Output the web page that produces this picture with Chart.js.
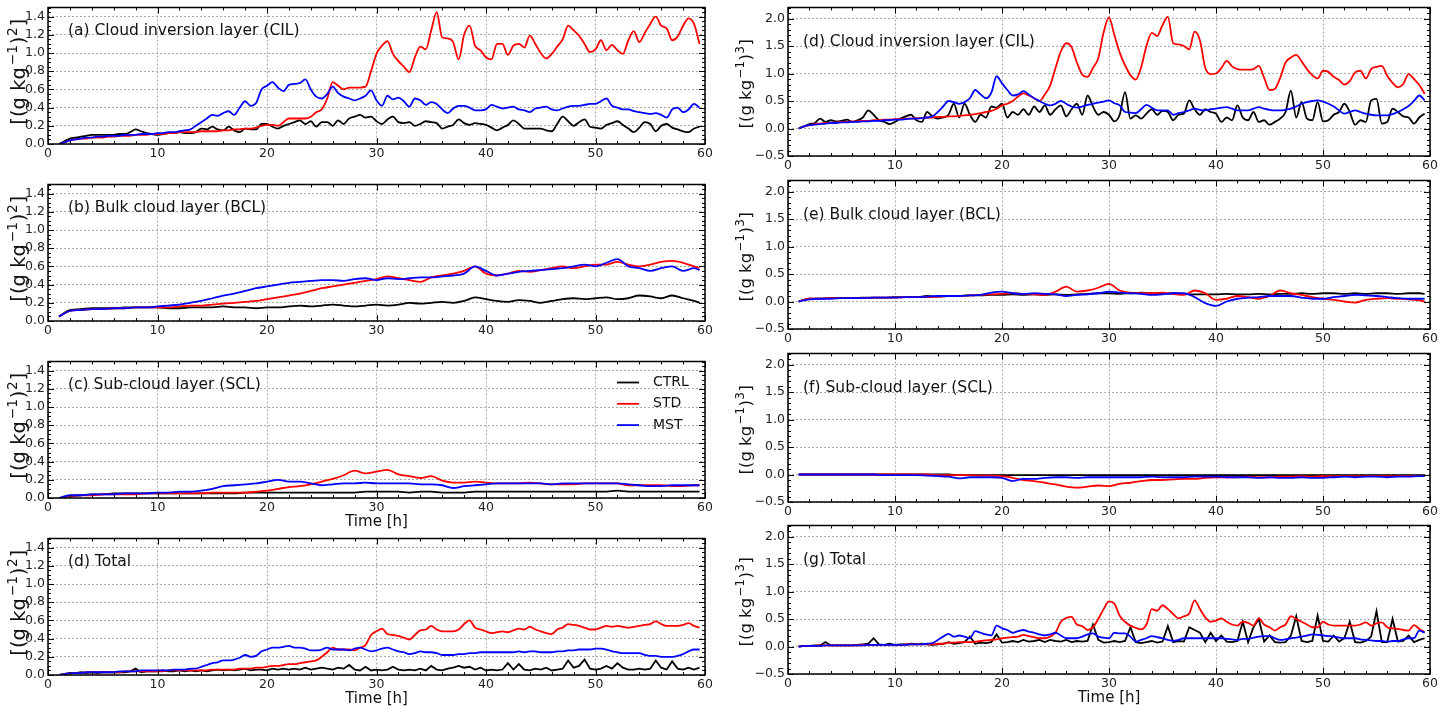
<!DOCTYPE html>
<html>
<head>
<meta charset="utf-8">
<script src="https://cdn.jsdelivr.net/npm/chart.js@4/dist/chart.umd.min.js"></script>
<style>
  html, body { margin: 0; padding: 0; background: #fff; }
  #fig { position: relative; width: 1452px; height: 713px; overflow: hidden; background: #fff; }
  #fig canvas { position: absolute; }
</style>
</head>
<body>
<div id="fig"></div>
<script>
// Sample times [h]
const hoursFine = [1,1.5,2,2.5,3,3.5,4,4.5,5,5.5,
  6,6.5,7,7.5,8,8.5,9,9.5,10,10.5,
  11,11.5,12,12.5,13,13.5,14,14.5,15,15.5,
  16,16.5,17,17.5,18,18.5,19,19.5,20,20.5,
  21,21.5,22,22.5,23,23.5,24,24.5,25,25.5,
  26,26.5,27,27.5,28,28.5,29,29.5,30,30.5,
  31,31.5,32,32.5,33,33.5,34,34.5,35,35.5,
  36,36.5,37,37.5,38,38.5,39,39.5,40,40.5,
  41,41.5,42,42.5,43,43.5,44,44.5,45,45.5,
  46,46.5,47,47.5,48,48.5,49,49.5,50,50.5,
  51,51.5,52,52.5,53,53.5,54,54.5,55,55.5,
  56,56.5,57,57.5,58,58.5,59,59.5];
const hoursCoarse = [1,2,3,4,5,6,7,8,9,10,
  11,12,13,14,15,16,17,18,19,20,
  21,22,23,24,25,26,27,28,29,30,
  31,32,33,34,35,36,37,38,39,40,
  41,42,43,44,45,46,47,48,49,50,
  51,52,53,54,55,56,57,58,59,59.5];

const seriesNames = ['CTRL', 'STD', 'MST'];
const seriesColors = ['#000000', '#ff0000', '#0000ff'];

// Variance [(g kg-1)^2] — cloud inversion layer
const varCilCtrl = [0.00,0.03,0.06,0.07,0.08,0.09,0.10,0.10,0.10,0.10,
  0.10,0.11,0.11,0.13,0.16,0.14,0.12,0.11,0.10,0.11,
  0.12,0.12,0.13,0.12,0.12,0.13,0.17,0.16,0.19,0.16,
  0.15,0.19,0.15,0.13,0.17,0.16,0.16,0.22,0.22,0.19,
  0.17,0.20,0.22,0.24,0.26,0.22,0.25,0.19,0.24,0.24,
  0.20,0.26,0.22,0.28,0.30,0.32,0.29,0.30,0.25,0.22,
  0.27,0.30,0.24,0.23,0.24,0.20,0.22,0.25,0.24,0.23,
  0.17,0.19,0.21,0.27,0.23,0.21,0.23,0.22,0.21,0.18,
  0.15,0.18,0.21,0.26,0.22,0.17,0.17,0.17,0.17,0.15,
  0.14,0.22,0.30,0.25,0.20,0.24,0.27,0.19,0.18,0.17,
  0.21,0.23,0.25,0.21,0.17,0.13,0.18,0.24,0.22,0.14,
  0.20,0.22,0.18,0.16,0.14,0.13,0.17,0.19];
const varCilStd = [0.00,0.02,0.04,0.05,0.06,0.06,0.07,0.07,0.07,0.08,
  0.08,0.09,0.09,0.09,0.10,0.10,0.10,0.11,0.11,0.11,
  0.12,0.12,0.13,0.13,0.13,0.13,0.14,0.14,0.14,0.14,
  0.15,0.15,0.16,0.16,0.17,0.17,0.18,0.20,0.21,0.21,
  0.20,0.24,0.28,0.28,0.28,0.28,0.30,0.35,0.38,0.50,
  0.68,0.64,0.60,0.62,0.62,0.62,0.63,0.80,0.99,1.08,
  1.13,0.99,0.91,0.85,0.79,0.95,1.07,1.04,1.25,1.45,
  1.17,1.16,1.12,0.93,1.20,1.30,1.08,1.03,0.95,0.93,
  1.10,1.10,0.98,1.08,1.10,1.06,1.19,1.10,1.00,0.94,
  0.99,1.07,1.15,1.30,1.25,1.19,1.10,1.01,1.04,1.14,
  1.03,1.09,1.03,0.99,1.14,1.24,1.12,1.22,1.32,1.40,
  1.30,1.27,1.14,1.18,1.30,1.38,1.32,1.10];
const varCilMst = [0.00,0.02,0.04,0.05,0.06,0.07,0.07,0.08,0.08,0.09,
  0.09,0.09,0.10,0.10,0.10,0.11,0.11,0.11,0.12,0.12,
  0.13,0.13,0.14,0.15,0.16,0.20,0.24,0.28,0.32,0.31,
  0.34,0.36,0.32,0.40,0.47,0.42,0.45,0.60,0.64,0.68,
  0.62,0.58,0.65,0.66,0.67,0.71,0.60,0.52,0.50,0.55,
  0.63,0.56,0.52,0.50,0.48,0.50,0.53,0.59,0.48,0.42,
  0.53,0.49,0.51,0.47,0.41,0.50,0.48,0.43,0.46,0.44,
  0.38,0.34,0.39,0.42,0.42,0.40,0.37,0.37,0.38,0.43,
  0.41,0.39,0.40,0.41,0.38,0.37,0.35,0.39,0.40,0.41,
  0.38,0.37,0.39,0.41,0.42,0.42,0.43,0.44,0.44,0.47,
  0.50,0.42,0.40,0.38,0.38,0.36,0.35,0.34,0.33,0.34,
  0.32,0.29,0.38,0.40,0.35,0.38,0.44,0.40];

// Variance — bulk cloud layer
const varBclCtrl = [0.05,0.12,0.13,0.14,0.14,0.14,0.15,0.15,0.15,0.15,
  0.14,0.14,0.15,0.15,0.15,0.16,0.15,0.15,0.14,0.15,
  0.15,0.16,0.17,0.16,0.17,0.18,0.17,0.16,0.17,0.18,
  0.17,0.18,0.20,0.19,0.20,0.21,0.20,0.22,0.26,0.24,
  0.22,0.21,0.23,0.22,0.20,0.22,0.24,0.25,0.24,0.25,
  0.26,0.24,0.25,0.28,0.27,0.25,0.28,0.25,0.22,0.20];
const varBclStd = [0.05,0.11,0.12,0.13,0.13,0.14,0.14,0.15,0.15,0.15,
  0.15,0.16,0.17,0.17,0.18,0.19,0.20,0.21,0.22,0.24,
  0.26,0.28,0.30,0.33,0.36,0.38,0.40,0.42,0.44,0.46,
  0.49,0.47,0.45,0.43,0.48,0.50,0.52,0.55,0.60,0.52,
  0.50,0.52,0.55,0.54,0.56,0.58,0.60,0.58,0.60,0.62,
  0.62,0.65,0.62,0.60,0.62,0.65,0.66,0.64,0.60,0.58];
const varBclMst = [0.05,0.11,0.12,0.13,0.13,0.14,0.14,0.15,0.15,0.16,
  0.17,0.18,0.20,0.22,0.25,0.28,0.30,0.33,0.36,0.38,
  0.40,0.42,0.43,0.44,0.45,0.45,0.44,0.46,0.47,0.45,
  0.47,0.46,0.47,0.48,0.48,0.49,0.50,0.52,0.60,0.55,
  0.50,0.52,0.54,0.55,0.56,0.57,0.58,0.60,0.62,0.60,
  0.64,0.68,0.60,0.58,0.55,0.58,0.60,0.55,0.58,0.56];

// Variance — sub-cloud layer
const varSclCtrl = [0.00,0.02,0.03,0.04,0.04,0.05,0.05,0.05,0.05,0.05,
  0.05,0.05,0.05,0.05,0.05,0.05,0.05,0.06,0.06,0.06,
  0.06,0.06,0.06,0.06,0.06,0.06,0.06,0.06,0.07,0.07,
  0.07,0.07,0.06,0.07,0.07,0.06,0.06,0.06,0.07,0.07,
  0.07,0.07,0.07,0.07,0.07,0.07,0.07,0.07,0.07,0.07,
  0.07,0.08,0.07,0.07,0.07,0.07,0.07,0.07,0.07,0.07];
const varSclStd = [0.00,0.02,0.03,0.03,0.04,0.04,0.04,0.04,0.05,0.05,
  0.05,0.05,0.05,0.05,0.06,0.06,0.06,0.06,0.07,0.08,
  0.10,0.12,0.13,0.15,0.18,0.21,0.25,0.30,0.27,0.29,
  0.31,0.26,0.24,0.22,0.24,0.19,0.17,0.17,0.18,0.17,
  0.16,0.16,0.16,0.17,0.16,0.15,0.15,0.15,0.16,0.16,
  0.16,0.16,0.14,0.14,0.14,0.14,0.13,0.13,0.14,0.14];
const varSclMst = [0.00,0.03,0.03,0.04,0.04,0.04,0.05,0.05,0.05,0.06,
  0.06,0.07,0.07,0.08,0.10,0.13,0.14,0.15,0.16,0.18,
  0.20,0.18,0.18,0.16,0.14,0.15,0.16,0.16,0.17,0.16,
  0.16,0.16,0.16,0.15,0.15,0.14,0.11,0.13,0.14,0.15,
  0.16,0.16,0.16,0.16,0.16,0.15,0.16,0.16,0.16,0.16,
  0.16,0.16,0.15,0.14,0.13,0.13,0.14,0.14,0.14,0.14];

// Variance — total
const varTotCtrl = [0.00,0.01,0.02,0.02,0.03,0.02,0.03,0.02,0.03,0.03,
  0.03,0.03,0.03,0.04,0.07,0.03,0.04,0.04,0.04,0.05,
  0.04,0.04,0.05,0.04,0.05,0.04,0.05,0.04,0.05,0.06,
  0.05,0.06,0.05,0.06,0.07,0.05,0.06,0.06,0.05,0.07,
  0.06,0.07,0.06,0.07,0.06,0.08,0.06,0.07,0.08,0.07,
  0.06,0.08,0.07,0.11,0.06,0.05,0.09,0.05,0.06,0.05,
  0.06,0.09,0.06,0.05,0.06,0.05,0.07,0.05,0.10,0.06,
  0.05,0.07,0.08,0.10,0.08,0.09,0.06,0.08,0.05,0.06,
  0.05,0.06,0.13,0.06,0.12,0.06,0.05,0.07,0.06,0.08,
  0.05,0.06,0.07,0.16,0.08,0.10,0.17,0.07,0.06,0.07,
  0.10,0.07,0.13,0.08,0.06,0.06,0.07,0.06,0.07,0.16,
  0.08,0.06,0.15,0.07,0.06,0.08,0.06,0.08];
const varTotStd = [0.00,0.01,0.02,0.02,0.02,0.03,0.03,0.03,0.03,0.03,
  0.03,0.03,0.04,0.04,0.04,0.04,0.04,0.04,0.04,0.04,
  0.05,0.05,0.05,0.05,0.05,0.05,0.05,0.05,0.06,0.06,
  0.06,0.06,0.06,0.07,0.07,0.07,0.08,0.08,0.09,0.10,
  0.10,0.11,0.12,0.12,0.13,0.14,0.15,0.16,0.20,0.25,
  0.30,0.28,0.28,0.28,0.27,0.30,0.33,0.44,0.48,0.51,
  0.45,0.44,0.43,0.41,0.39,0.44,0.49,0.50,0.54,0.50,
  0.48,0.48,0.48,0.50,0.56,0.60,0.52,0.50,0.48,0.46,
  0.47,0.48,0.47,0.49,0.51,0.50,0.53,0.50,0.48,0.46,
  0.45,0.50,0.52,0.56,0.55,0.54,0.52,0.50,0.50,0.52,
  0.54,0.53,0.54,0.53,0.52,0.53,0.54,0.55,0.56,0.59,
  0.56,0.54,0.54,0.54,0.55,0.57,0.54,0.52];
const varTotMst = [0.00,0.01,0.02,0.02,0.02,0.03,0.03,0.03,0.03,0.03,
  0.03,0.04,0.04,0.04,0.04,0.05,0.05,0.05,0.05,0.05,
  0.05,0.06,0.06,0.06,0.07,0.07,0.09,0.11,0.13,0.14,
  0.16,0.16,0.17,0.19,0.22,0.20,0.21,0.26,0.28,0.30,
  0.30,0.31,0.32,0.30,0.30,0.29,0.27,0.27,0.28,0.30,
  0.28,0.28,0.28,0.27,0.29,0.30,0.28,0.26,0.27,0.29,
  0.30,0.28,0.26,0.25,0.23,0.24,0.26,0.25,0.25,0.24,
  0.22,0.22,0.22,0.23,0.23,0.24,0.24,0.25,0.25,0.25,
  0.25,0.25,0.25,0.25,0.26,0.25,0.26,0.26,0.25,0.25,
  0.25,0.26,0.26,0.27,0.27,0.28,0.28,0.28,0.29,0.29,
  0.28,0.26,0.25,0.24,0.24,0.24,0.24,0.22,0.21,0.21,
  0.20,0.20,0.20,0.21,0.23,0.26,0.28,0.28];

// Third moment [(g kg-1)^3] — cloud inversion layer
const skwCilCtrl = [0.00,0.04,0.08,0.10,0.18,0.12,0.15,0.13,0.14,0.16,
  0.12,0.15,0.20,0.33,0.25,0.15,0.12,0.08,0.12,0.18,
  0.22,0.25,0.15,0.12,0.30,0.22,0.18,0.20,0.25,0.45,
  0.20,0.45,0.25,0.12,0.25,0.20,0.40,0.38,0.45,0.20,
  0.30,0.25,0.35,0.25,0.40,0.30,0.42,0.25,0.35,0.42,
  0.22,0.35,0.45,0.25,0.60,0.40,0.25,0.30,0.25,0.13,
  0.25,0.66,0.18,0.24,0.18,0.27,0.35,0.25,0.32,0.30,
  0.15,0.25,0.27,0.51,0.35,0.25,0.35,0.30,0.27,0.12,
  0.20,0.15,0.42,0.20,0.15,0.30,0.12,0.15,0.07,0.12,
  0.18,0.30,0.69,0.20,0.48,0.18,0.15,0.48,0.13,0.15,
  0.25,0.30,0.45,0.30,0.07,0.15,0.12,0.51,0.54,0.09,
  0.12,0.36,0.30,0.22,0.20,0.09,0.20,0.27];
const skwCilStd = [0.00,0.04,0.06,0.08,0.09,0.10,0.10,0.11,0.12,0.12,
  0.13,0.13,0.14,0.14,0.15,0.15,0.16,0.16,0.17,0.17,
  0.18,0.18,0.19,0.19,0.20,0.20,0.21,0.21,0.22,0.22,
  0.23,0.24,0.25,0.26,0.28,0.30,0.32,0.36,0.42,0.45,
  0.50,0.58,0.64,0.60,0.55,0.50,0.62,0.78,1.10,1.40,
  1.55,1.48,1.20,0.98,0.94,1.10,1.28,1.75,2.02,1.70,
  1.38,1.15,0.97,0.89,1.11,1.50,1.74,1.68,1.88,2.03,
  1.55,1.53,1.50,1.44,1.76,1.60,1.10,0.99,1.00,1.10,
  1.23,1.13,1.08,1.07,1.07,1.08,1.14,0.92,0.70,0.72,
  0.92,1.20,1.29,1.34,1.22,1.08,0.97,0.91,1.05,1.03,
  0.94,0.88,0.80,0.86,1.02,1.05,0.91,1.08,1.12,1.14,
  0.96,0.83,0.75,0.81,0.99,0.90,0.79,0.63];
const skwCilMst = [0.00,0.04,0.06,0.07,0.08,0.09,0.10,0.10,0.11,0.11,
  0.12,0.12,0.13,0.13,0.14,0.14,0.15,0.15,0.16,0.16,
  0.17,0.18,0.18,0.19,0.20,0.22,0.30,0.40,0.50,0.48,
  0.45,0.48,0.55,0.70,0.62,0.55,0.65,0.95,0.82,0.70,
  0.60,0.62,0.68,0.62,0.55,0.50,0.45,0.42,0.45,0.50,
  0.45,0.40,0.38,0.40,0.43,0.45,0.47,0.49,0.51,0.46,
  0.42,0.30,0.29,0.28,0.35,0.43,0.38,0.33,0.33,0.33,
  0.25,0.28,0.30,0.33,0.36,0.34,0.33,0.35,0.36,0.38,
  0.39,0.36,0.33,0.33,0.33,0.36,0.39,0.36,0.34,0.33,
  0.33,0.34,0.36,0.40,0.45,0.48,0.50,0.51,0.49,0.45,
  0.40,0.33,0.27,0.30,0.33,0.30,0.27,0.25,0.24,0.24,
  0.24,0.26,0.30,0.35,0.41,0.50,0.60,0.51];

// Third moment — bulk cloud layer
const skwBclCtrl = [0.00,0.05,0.05,0.06,0.06,0.06,0.07,0.07,0.07,0.08,
  0.08,0.08,0.10,0.09,0.10,0.10,0.11,0.11,0.12,0.12,
  0.13,0.12,0.13,0.12,0.13,0.12,0.13,0.14,0.15,0.15,
  0.14,0.15,0.16,0.15,0.14,0.15,0.14,0.13,0.13,0.13,
  0.14,0.13,0.13,0.14,0.13,0.14,0.14,0.15,0.14,0.15,
  0.15,0.14,0.15,0.14,0.15,0.15,0.14,0.15,0.15,0.14];
const skwBclStd = [0.00,0.05,0.05,0.06,0.06,0.06,0.06,0.07,0.07,0.07,
  0.08,0.08,0.08,0.09,0.10,0.10,0.11,0.12,0.13,0.14,
  0.15,0.14,0.13,0.12,0.18,0.27,0.18,0.20,0.25,0.32,
  0.20,0.16,0.15,0.15,0.16,0.14,0.12,0.20,0.15,0.03,
  0.05,0.10,0.08,0.05,0.10,0.20,0.15,0.12,0.08,0.05,
  0.03,0.00,-0.02,0.03,0.05,0.06,0.05,0.04,0.02,0.00];
const skwBclMst = [0.00,0.04,0.05,0.05,0.06,0.06,0.06,0.07,0.07,0.07,
  0.08,0.08,0.09,0.10,0.10,0.10,0.11,0.12,0.16,0.18,
  0.15,0.14,0.15,0.14,0.13,0.10,0.12,0.13,0.15,0.18,
  0.16,0.15,0.14,0.12,0.13,0.15,0.15,0.08,-0.03,-0.08,
  0.00,0.05,0.07,0.08,0.10,0.10,0.10,0.07,0.05,0.05,
  0.08,0.10,0.12,0.11,0.10,0.08,0.06,0.05,0.05,0.05];

// Third moment — sub-cloud layer
const skwSclCtrl = [0.00,0.00,0.00,0.00,0.00,0.00,0.00,0.00,0.00,0.00,
  0.00,0.00,0.00,0.00,0.00,-0.01,-0.01,-0.01,-0.01,-0.01,
  -0.01,-0.01,-0.01,-0.01,-0.01,-0.01,-0.01,-0.01,-0.01,-0.01,
  -0.01,-0.01,-0.01,-0.01,-0.01,-0.01,-0.01,-0.01,-0.01,-0.01,
  -0.01,-0.01,-0.01,-0.01,-0.01,-0.01,-0.01,-0.01,-0.01,-0.01,
  -0.01,-0.01,-0.01,-0.01,-0.01,-0.01,-0.01,-0.01,-0.01,-0.01];
const skwSclStd = [0.00,0.00,0.00,0.00,0.00,0.00,0.00,0.00,0.00,0.00,
  0.00,0.00,0.00,-0.01,-0.01,-0.01,-0.01,-0.02,-0.02,-0.03,
  -0.06,-0.10,-0.12,-0.15,-0.18,-0.22,-0.24,-0.22,-0.20,-0.21,
  -0.17,-0.15,-0.12,-0.10,-0.10,-0.09,-0.08,-0.08,-0.06,-0.05,
  -0.05,-0.05,-0.04,-0.05,-0.05,-0.04,-0.04,-0.03,-0.04,-0.03,
  -0.03,-0.03,-0.03,-0.03,-0.03,-0.03,-0.03,-0.03,-0.03,-0.03];
const skwSclMst = [0.00,0.00,0.00,0.00,0.00,0.00,0.00,0.00,-0.01,-0.01,
  -0.01,-0.01,-0.02,-0.03,-0.04,-0.07,-0.05,-0.05,-0.05,-0.06,
  -0.12,-0.08,-0.08,-0.06,-0.05,-0.05,-0.06,-0.05,-0.05,-0.05,
  -0.05,-0.05,-0.05,-0.04,-0.05,-0.05,-0.05,-0.04,-0.04,-0.04,
  -0.05,-0.05,-0.05,-0.06,-0.05,-0.06,-0.06,-0.05,-0.06,-0.06,
  -0.05,-0.04,-0.05,-0.04,-0.04,-0.05,-0.04,-0.04,-0.03,-0.03];

// Third moment — total
const skwTotCtrl = [0.00,0.01,0.01,0.02,0.02,0.08,0.02,0.02,0.02,0.02,
  0.02,0.03,0.04,0.05,0.15,0.04,0.03,0.05,0.03,0.04,
  0.04,0.05,0.04,0.05,0.04,0.03,0.04,0.05,0.08,0.05,
  0.06,0.08,0.18,0.05,0.07,0.06,0.08,0.22,0.07,0.08,
  0.10,0.08,0.12,0.09,0.10,0.12,0.08,0.12,0.10,0.09,
  0.12,0.08,0.10,0.09,0.10,0.40,0.12,0.07,0.08,0.10,
  0.08,0.10,0.35,0.08,0.06,0.08,0.10,0.07,0.09,0.37,
  0.08,0.10,0.09,0.35,0.30,0.25,0.08,0.25,0.10,0.20,
  0.09,0.08,0.10,0.45,0.08,0.35,0.50,0.09,0.20,0.08,
  0.07,0.08,0.20,0.55,0.10,0.08,0.10,0.56,0.10,0.09,
  0.20,0.09,0.15,0.45,0.08,0.07,0.10,0.18,0.64,0.08,
  0.08,0.50,0.09,0.10,0.20,0.08,0.12,0.15];
const skwTotStd = [0.00,0.01,0.01,0.01,0.02,0.02,0.02,0.02,0.02,0.02,
  0.02,0.02,0.03,0.03,0.03,0.03,0.03,0.03,0.03,0.03,
  0.04,0.04,0.04,0.04,0.04,0.04,0.05,0.05,0.07,0.07,
  0.08,0.08,0.08,0.09,0.10,0.11,0.12,0.13,0.15,0.16,
  0.17,0.18,0.21,0.19,0.17,0.15,0.15,0.18,0.25,0.45,
  0.52,0.54,0.40,0.37,0.30,0.35,0.50,0.68,0.82,0.78,
  0.56,0.45,0.38,0.34,0.31,0.40,0.68,0.65,0.75,0.68,
  0.59,0.51,0.55,0.60,0.84,0.68,0.53,0.45,0.47,0.51,
  0.45,0.40,0.38,0.45,0.43,0.38,0.51,0.40,0.35,0.29,
  0.35,0.40,0.55,0.50,0.45,0.40,0.35,0.35,0.45,0.40,
  0.38,0.38,0.38,0.38,0.38,0.40,0.44,0.38,0.42,0.44,
  0.35,0.33,0.32,0.30,0.29,0.39,0.32,0.26];
const skwTotMst = [0.00,0.01,0.01,0.01,0.01,0.02,0.02,0.02,0.02,0.02,
  0.02,0.02,0.02,0.03,0.03,0.03,0.03,0.03,0.03,0.03,
  0.03,0.04,0.04,0.04,0.05,0.06,0.12,0.18,0.23,0.18,
  0.20,0.18,0.15,0.28,0.25,0.22,0.20,0.38,0.33,0.30,
  0.25,0.28,0.30,0.27,0.25,0.22,0.20,0.22,0.25,0.20,
  0.15,0.15,0.15,0.18,0.22,0.24,0.18,0.16,0.15,0.25,
  0.24,0.24,0.18,0.09,0.12,0.15,0.19,0.17,0.15,0.12,
  0.10,0.12,0.15,0.15,0.15,0.15,0.15,0.15,0.15,0.15,
  0.14,0.13,0.12,0.14,0.14,0.16,0.18,0.19,0.19,0.15,
  0.12,0.13,0.15,0.16,0.18,0.20,0.22,0.21,0.20,0.19,
  0.18,0.16,0.15,0.15,0.15,0.13,0.12,0.11,0.10,0.10,
  0.09,0.10,0.10,0.13,0.15,0.15,0.29,0.25];

// Axis tick values
const timeTicks = [0, 10, 20, 30, 40, 50, 60];
const varTicks = [0.0, 0.2, 0.4, 0.6, 0.8, 1.0, 1.2, 1.4];
const skwTicks = [-0.5, 0.0, 0.5, 1.0, 1.5, 2.0];

// Column layouts (pixel geometry of each column of panels)
const columns = {
  left:  { plotLeft: 48, plotRight: 705, tops: [7, 184, 361, 538], plotH: 137, yAxisW: 48,
           yMin: 0, yMax: 1.5, ticks: varTicks, yMinor: 0.05, power: '2',
           unitSize: 19.5, unitOffset: 30, unitShift: -4, titleDx: 20, titleDy: 23 },
  right: { plotLeft: 788, plotRight: 1430, tops: [7, 180, 353, 525], plotH: 149, yAxisW: 62,
           yMin: -0.5, yMax: 2.2, ticks: skwTicks, yMinor: 0.1, power: '3',
           unitSize: 16.5, unitOffset: 43, unitShift: 2, titleDx: 15, titleDy: 34 }
};
const PAD_T = 10, PAD_R = 12;

const panels = [
  { col: 'left', row: 0, title: '(a) Cloud inversion layer (CIL)', hours: hoursFine, values: [varCilCtrl, varCilStd, varCilMst] },
  { col: 'left', row: 1, title: '(b) Bulk cloud layer (BCL)', hours: hoursCoarse, values: [varBclCtrl, varBclStd, varBclMst] },
  { col: 'left', row: 2, title: '(c) Sub-cloud layer (SCL)', hours: hoursCoarse, values: [varSclCtrl, varSclStd, varSclMst], timeTitle: true, legend: true },
  { col: 'left', row: 3, title: '(d) Total', hours: hoursFine, values: [varTotCtrl, varTotStd, varTotMst], timeTitle: true, sharpCtrl: true },
  { col: 'right', row: 0, title: '(d) Cloud inversion layer (CIL)', hours: hoursFine, values: [skwCilCtrl, skwCilStd, skwCilMst] },
  { col: 'right', row: 1, title: '(e) Bulk cloud layer (BCL)', hours: hoursCoarse, values: [skwBclCtrl, skwBclStd, skwBclMst] },
  { col: 'right', row: 2, title: '(f) Sub-cloud layer (SCL)', hours: hoursCoarse, values: [skwSclCtrl, skwSclStd, skwSclMst] },
  { col: 'right', row: 3, title: '(g) Total', hours: hoursFine, values: [skwTotCtrl, skwTotStd, skwTotMst], timeTitle: true, sharpCtrl: true }
];

const FONT = '"DejaVu Sans", "Liberation Sans", sans-serif';
Chart.defaults.font.family = FONT;

function fmtTick(v) {
  return v.toFixed(1).replace('-', '\u2212');
}

// Unit label like [(g kg^-1)^n], drawn rotated with real superscripts
function drawUnitLabel(ctx, cx, cy, power, size) {
  const sup = size * 0.7;
  const raise = -size * 0.4;
  const parts = [
    { t: '[(g kg', s: size, dy: 0, gap: 0 },
    { t: '\u22121', s: sup, dy: raise, gap: size * 0.1 },
    { t: ')', s: size, dy: 0, gap: size * 0.04 },
    { t: power, s: sup, dy: raise, gap: size * 0.04 },
    { t: ']', s: size, dy: 0, gap: size * 0.04 }
  ];
  ctx.save();
  ctx.translate(cx, cy);
  ctx.rotate(-Math.PI / 2);
  ctx.fillStyle = '#111';
  ctx.textBaseline = 'alphabetic';
  let total = 0;
  parts.forEach(p => {
    ctx.font = p.s + 'px ' + FONT;
    p.w = ctx.measureText(p.t).width + p.gap;
    total += p.w;
  });
  let x = -total / 2;
  parts.forEach(p => {
    ctx.font = p.s + 'px ' + FONT;
    ctx.fillText(p.t, x + p.gap, size * 0.36 + p.dy);
    x += p.w;
  });
  ctx.restore();
}

// Frame, inward major/minor ticks on all four sides, panel text, unit label, inset legend
const panelDecor = {
  id: 'panelDecor',
  afterDatasetsDraw(chart, args, o) {
    const { ctx, chartArea: a, scales: { x, y } } = chart;
    ctx.save();
    ctx.strokeStyle = '#000';
    ctx.lineWidth = 1;
    ctx.beginPath();
    for (let v = x.min; v <= x.max + 1e-9; v += o.xMinor) {
      const major = Math.abs(v / o.xMajor - Math.round(v / o.xMajor)) < 1e-6;
      const len = major ? 6 : 3;
      const px = Math.round(x.getPixelForValue(v)) + 0.5;
      ctx.moveTo(px, a.bottom); ctx.lineTo(px, a.bottom - len);
      ctx.moveTo(px, a.top); ctx.lineTo(px, a.top + len);
    }
    const n = Math.round((y.max - y.min) / o.yMinor);
    for (let i = 0; i <= n; i++) {
      const v = y.min + i * o.yMinor;
      const major = o.yTicks.some(t => Math.abs(t - v) < 1e-6);
      const len = major ? 6 : 3;
      const py = Math.round(y.getPixelForValue(v)) + 0.5;
      ctx.moveTo(a.left, py); ctx.lineTo(a.left + len, py);
      ctx.moveTo(a.right, py); ctx.lineTo(a.right - len, py);
    }
    ctx.stroke();
    ctx.lineWidth = 1.5;
    ctx.strokeRect(a.left, a.top, a.right - a.left, a.bottom - a.top);

    // panel text
    ctx.fillStyle = '#111';
    ctx.font = '15.5px ' + FONT;
    ctx.textBaseline = 'middle';
    ctx.textAlign = 'left';
    ctx.fillText(o.title, a.left + o.titleDx, a.top + o.titleDy);

    // inset legend
    if (o.legend) {
      ctx.font = '14px ' + FONT;
      chart.data.datasets.forEach((ds, i) => {
        const ly = a.top + 21 + i * 21.3;
        ctx.strokeStyle = ds.borderColor;
        ctx.lineWidth = 1.8;
        ctx.beginPath();
        ctx.moveTo(a.left + 569, ly); ctx.lineTo(a.left + 591, ly);
        ctx.stroke();
        ctx.fillStyle = '#111';
        ctx.fillText(ds.label, a.left + 605, ly);
      });
    }
    ctx.restore();

    drawUnitLabel(ctx, a.left - o.unitOffset, (a.top + a.bottom) / 2 + o.unitShift, o.power, o.unitSize);
  }
};

const fig = document.getElementById('fig');

panels.forEach(p => {
  const g = columns[p.col];
  const plotTop = g.tops[p.row];
  const xAxisH = p.timeTitle ? 36 : 22;
  const w = g.yAxisW + (g.plotRight - g.plotLeft) + PAD_R;
  const h = PAD_T + g.plotH + xAxisH;
  const canvas = document.createElement('canvas');
  canvas.width = w;
  canvas.height = h;
  canvas.style.left = (g.plotLeft - g.yAxisW) + 'px';
  canvas.style.top = (plotTop - PAD_T) + 'px';
  canvas.style.width = w + 'px';
  canvas.style.height = h + 'px';
  fig.appendChild(canvas);

  const datasets = p.values.map((vals, k) => ({
    label: seriesNames[k],
    data: p.hours.map((t, i) => ({ x: t, y: vals[i] })),
    borderColor: seriesColors[k],
    backgroundColor: seriesColors[k],
    borderWidth: 1.8,
    pointRadius: 0,
    fill: false,
    order: 3 - k,
    cubicInterpolationMode: (k === 0 && p.sharpCtrl) ? 'default' : 'monotone',
    tension: 0
  }));

  new Chart(canvas, {
    type: 'line',
    data: { datasets },
    options: {
      responsive: false,
      maintainAspectRatio: false,
      animation: false,
      devicePixelRatio: 1,
      events: [],
      layout: { padding: { top: PAD_T, right: PAD_R, left: 0, bottom: 0 } },
      scales: {
        x: {
          type: 'linear',
          min: 0, max: 60,
          afterFit: s => { s.height = xAxisH; },
          afterBuildTicks: s => { s.ticks = timeTicks.map(v => ({ value: v })); },
          ticks: {
            autoSkip: false, maxRotation: 0, padding: 2,
            color: '#222', font: { size: 12.5, family: FONT },
            callback: v => String(v)
          },
          grid: { drawTicks: false, color: '#a8a8a8', lineWidth: 1 },
          border: { display: false, dash: [2, 2] },
          title: {
            display: !!p.timeTitle, text: 'Time [h]', color: '#111',
            font: { size: 15, family: FONT }, padding: { top: 0, bottom: 3 }
          }
        },
        y: {
          type: 'linear',
          min: g.yMin, max: g.yMax,
          afterFit: s => { s.width = g.yAxisW; },
          afterBuildTicks: s => { s.ticks = g.ticks.map(v => ({ value: v })); },
          ticks: {
            autoSkip: false, padding: 3,
            color: '#222', font: { size: 12.5, family: FONT },
            callback: v => fmtTick(v)
          },
          grid: { drawTicks: false, color: '#a8a8a8', lineWidth: 1 },
          border: { display: false, dash: [2, 2] }
        }
      },
      plugins: {
        legend: { display: false },
        tooltip: { enabled: false },
        panelDecor: {
          title: p.title, titleDx: g.titleDx, titleDy: g.titleDy,
          xMajor: 10, xMinor: 2, yMinor: g.yMinor, yTicks: g.ticks,
          power: g.power, unitSize: g.unitSize, unitOffset: g.unitOffset, unitShift: g.unitShift,
          legend: !!p.legend
        }
      }
    },
    plugins: [panelDecor]
  });
});
</script>
</body>
</html>
